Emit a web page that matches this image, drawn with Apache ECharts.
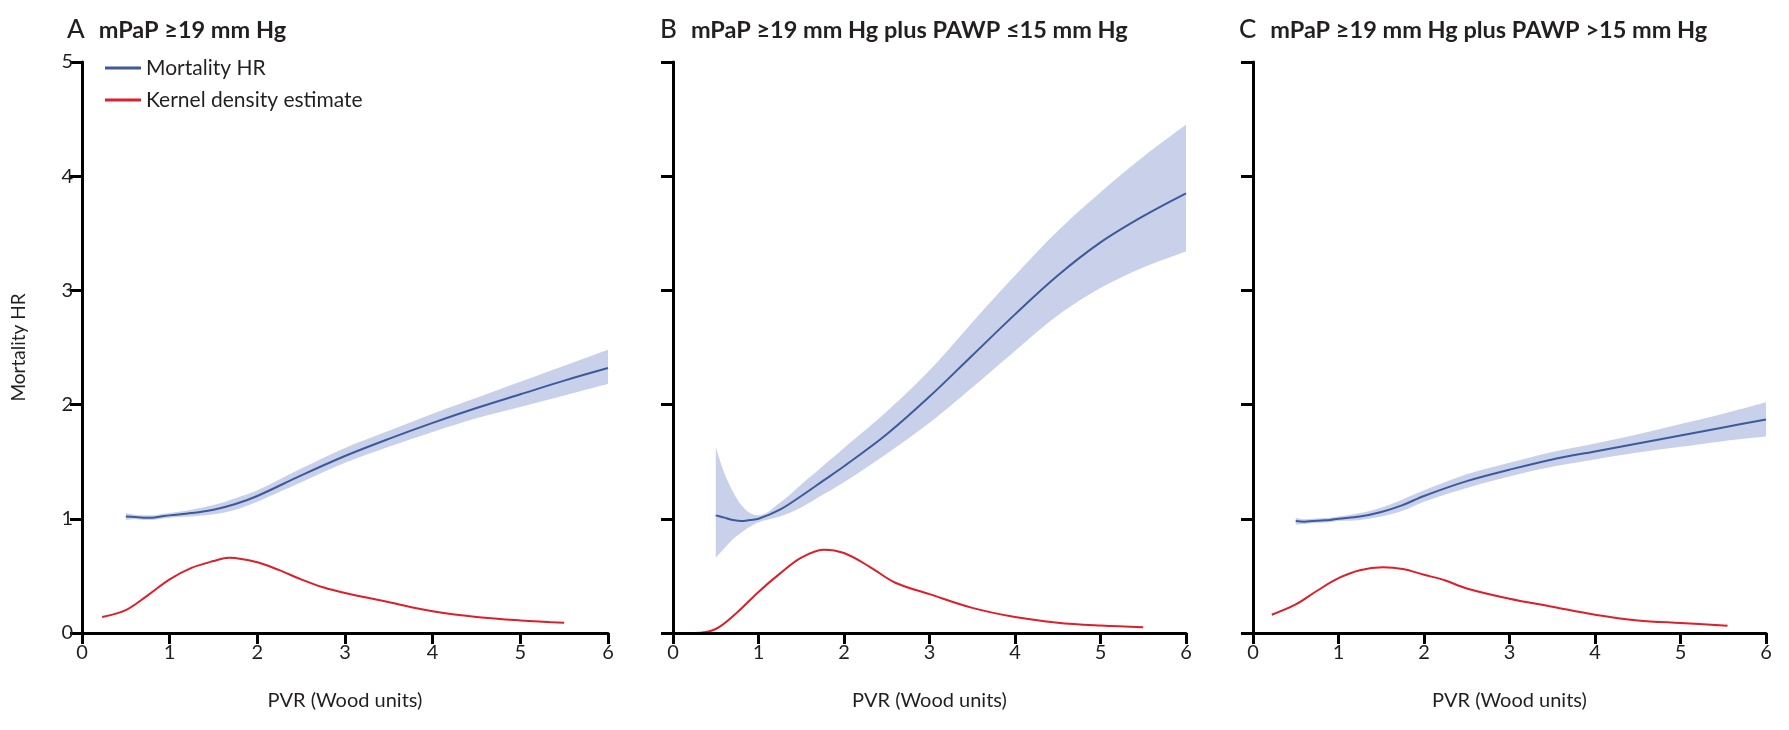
<!DOCTYPE html>
<html>
<head>
<meta charset="utf-8">
<script src="https://cdn.jsdelivr.net/npm/echarts@6/dist/echarts.min.js"></script>
<style>
html,body{margin:0;padding:0;background:#fff;}
#chart{width:1789px;height:730px;}
</style>
</head>
<body>
<div id="chart"></div>
<script>
// ---- Data ----
const panelLetters = ['A', 'B', 'C'];
const panelTitles = ['mPaP \u226519 mm Hg', 'mPaP \u226519 mm Hg plus PAWP \u226415 mm Hg', 'mPaP \u226519 mm Hg plus PAWP >15 mm Hg'];
const xTicks = [0, 1, 2, 3, 4, 5, 6];
const yTicks = [0, 1, 2, 3, 4, 5];

const pvr = [0.5, 0.6, 0.7, 0.8, 0.9, 1.0, 1.25, 1.5, 1.75, 2, 2.5, 3, 3.5, 4, 4.5, 5, 5.5, 6];

const hrA = [1.02, 1.015, 1.01, 1.01, 1.02, 1.03, 1.05, 1.08, 1.13, 1.20, 1.38, 1.55, 1.70, 1.84, 1.97, 2.09, 2.21, 2.32];
const loA = [0.99, 0.995, 0.99, 0.99, 1.00, 1.01, 1.02, 1.04, 1.08, 1.15, 1.32, 1.49, 1.63, 1.76, 1.88, 1.98, 2.08, 2.18];
const hiA = [1.05, 1.035, 1.03, 1.03, 1.04, 1.05, 1.08, 1.12, 1.18, 1.25, 1.44, 1.62, 1.77, 1.92, 2.06, 2.20, 2.34, 2.48];

const hrB = [1.03, 1.01, 0.99, 0.98, 0.99, 1.00, 1.08, 1.20, 1.33, 1.46, 1.74, 2.07, 2.43, 2.79, 3.13, 3.42, 3.65, 3.85];
const loB = [0.66, 0.74, 0.82, 0.88, 0.93, 0.97, 1.02, 1.10, 1.21, 1.32, 1.57, 1.84, 2.15, 2.47, 2.78, 3.02, 3.20, 3.34];
const hiB = [1.63, 1.40, 1.24, 1.12, 1.05, 1.03, 1.14, 1.30, 1.46, 1.62, 1.94, 2.30, 2.72, 3.13, 3.52, 3.86, 4.17, 4.45];

const hrC = [0.98, 0.975, 0.98, 0.985, 0.99, 1.00, 1.02, 1.06, 1.12, 1.20, 1.33, 1.43, 1.52, 1.59, 1.66, 1.73, 1.80, 1.87];
const loC = [0.95, 0.955, 0.96, 0.965, 0.97, 0.98, 0.99, 1.02, 1.07, 1.15, 1.27, 1.37, 1.455, 1.52, 1.58, 1.63, 1.68, 1.72];
const hiC = [1.01, 0.995, 1.00, 1.005, 1.01, 1.02, 1.05, 1.10, 1.17, 1.25, 1.39, 1.49, 1.585, 1.66, 1.74, 1.83, 1.92, 2.02];

const kdeXA = [0.23, 0.5, 0.75, 1.0, 1.25, 1.5, 1.68, 2.0, 2.25, 2.5, 2.75, 3.0, 3.5, 4.0, 4.5, 5.0, 5.5];
const kdeA  = [0.14, 0.20, 0.33, 0.47, 0.57, 0.63, 0.66, 0.62, 0.55, 0.47, 0.40, 0.35, 0.27, 0.19, 0.14, 0.11, 0.09];

const kdeXB = [0, 0.25, 0.5, 0.75, 1.0, 1.25, 1.5, 1.76, 2.0, 2.3, 2.6, 3.0, 3.5, 4.0, 4.5, 5.0, 5.5];
const kdeB  = [0, 0, 0.035, 0.18, 0.36, 0.52, 0.66, 0.73, 0.70, 0.58, 0.44, 0.34, 0.22, 0.14, 0.09, 0.065, 0.05];

const kdeXC = [0.22, 0.5, 0.75, 1.0, 1.25, 1.52, 1.75, 2.0, 2.25, 2.5, 3.0, 3.5, 4.0, 4.5, 5.0, 5.55];
const kdeC  = [0.16, 0.25, 0.37, 0.48, 0.55, 0.575, 0.56, 0.51, 0.46, 0.39, 0.30, 0.23, 0.16, 0.11, 0.087, 0.064];

const seriesNames = ['Mortality HR', 'Kernel density estimate'];
const xName = 'PVR (Wood units)';
const yName = 'Mortality HR';

// ---- Styles / layout ----
const FONT = 'Lato, "Open Sans", sans-serif';
const TXT = '#231f20';
const BLUE = '#3c5a9b';
const BAND = '#c9d1ea';
const RED = '#dc1f2a';
const SMOOTH = 0.35;
const grids = [
  {left: 82, width: 526, top: 62, height: 571},
  {left: 673, width: 513, top: 62, height: 571},
  {left: 1253, width: 513, top: 62, height: 571}
];
const titleLeft = [62, 655, 1234];

const panels = [
  {hr: hrA, lo: loA, hi: hiA, kx: kdeXA, k: kdeA},
  {hr: hrB, lo: loB, hi: hiB, kx: kdeXB, k: kdeB},
  {hr: hrC, lo: loC, hi: hiC, kx: kdeXC, k: kdeC}
];

const xAxes = [], yAxes = [], series = [], titles = [];
panels.forEach((p, i) => {
  xAxes.push({
    type: 'value', gridIndex: i, min: xTicks[0], max: xTicks[xTicks.length - 1], interval: 1, z: 10,
    name: xName, nameLocation: 'middle', nameGap: 58,
    nameTextStyle: {fontFamily: FONT, fontSize: 20, color: TXT},
    axisLine: {show: true, onZero: false, lineStyle: {color: '#000', width: 3}},
    axisTick: {show: true, length: 11, lineStyle: {color: '#000', width: 3}},
    axisLabel: {show: true, margin: 10, fontFamily: FONT, fontSize: 20, color: TXT},
    splitLine: {show: false}
  });
  yAxes.push({
    type: 'value', gridIndex: i, min: yTicks[0], max: yTicks[yTicks.length - 1], interval: 1, z: 10,
    name: i === 0 ? yName : '', nameLocation: 'middle', nameGap: 54,
    nameTextStyle: {fontFamily: FONT, fontSize: 19, color: TXT},
    axisLine: {show: true, lineStyle: {color: '#000', width: 3}},
    axisTick: {show: true, length: 12, lineStyle: {color: '#000', width: 3}},
    axisLabel: {show: i === 0, margin: 9, fontFamily: FONT, fontSize: 20, color: TXT},
    splitLine: {show: false}
  });
  titles.push({
    left: titleLeft[i], top: 12,
    text: '{l|' + panelLetters[i] + '}{t|' + panelTitles[i] + '}',
    textStyle: {
      rich: {
        l: {fontFamily: FONT, fontSize: 26, fontWeight: 500, color: TXT, padding: [0, 14, 0, 0]},
        t: {fontFamily: FONT, fontSize: 23.5, fontWeight: 'bold', color: TXT}
      }
    }
  });
  // confidence band: lower bound + stacked width, value column first so the stack is on y
  const stackName = 'band' + i;
  series.push({
    type: 'line', xAxisIndex: i, yAxisIndex: i, silent: true, stack: stackName,
    encode: {x: 1, y: 0},
    data: pvr.map((x, j) => [p.lo[j], x]),
    symbol: 'none', smooth: SMOOTH,
    lineStyle: {width: 0, opacity: 0}, z: 1
  });
  series.push({
    type: 'line', xAxisIndex: i, yAxisIndex: i, silent: true, stack: stackName,
    encode: {x: 1, y: 0},
    data: pvr.map((x, j) => [+(p.hi[j] - p.lo[j]).toFixed(4), x]),
    symbol: 'none', smooth: SMOOTH,
    lineStyle: {width: 0, opacity: 0}, areaStyle: {color: BAND, opacity: 1}, z: 1
  });
  series.push({
    name: seriesNames[0], type: 'line', xAxisIndex: i, yAxisIndex: i,
    data: pvr.map((x, j) => [x, p.hr[j]]),
    symbol: 'none', smooth: SMOOTH,
    lineStyle: {color: BLUE, width: 2}, itemStyle: {color: BLUE}, z: 4
  });
  series.push({
    name: seriesNames[1], type: 'line', xAxisIndex: i, yAxisIndex: i,
    data: p.kx.map((x, j) => [x, p.k[j]]),
    symbol: 'none', smooth: SMOOTH,
    lineStyle: {color: RED, width: 2}, itemStyle: {color: RED}, z: 4
  });
});

const chart = echarts.init(document.getElementById('chart'), null, {renderer: 'canvas'});
chart.setOption({
  animation: false,
  backgroundColor: '#fff',
  title: titles,
  legend: {
    data: seriesNames, orient: 'vertical', left: 100, top: 52,
    icon: 'rect', itemWidth: 36, itemHeight: 3, itemGap: 10,
    textStyle: {fontFamily: FONT, fontSize: 21, color: TXT, lineHeight: 22},
    selectedMode: false
  },
  grid: grids,
  xAxis: xAxes,
  yAxis: yAxes,
  series: series
});
</script>
</body>
</html>
